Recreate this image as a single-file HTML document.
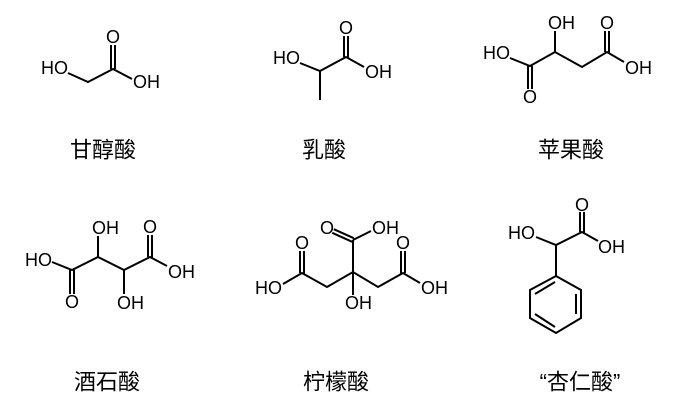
<!DOCTYPE html>
<html><head><meta charset="utf-8"><style>
html,body{margin:0;padding:0;background:#fff;}
svg{display:block;}
.a{font-family:"Liberation Sans",Arial,sans-serif;font-size:18px;fill:#000;}
.c{font-family:"Liberation Sans","Noto Sans CJK SC",sans-serif;font-size:22px;fill:#000;}
line,polyline{stroke:#000;stroke-width:2;fill:none;stroke-linecap:butt;}
</style></head><body>
<svg width="688" height="417" viewBox="0 0 688 417" xmlns="http://www.w3.org/2000/svg">
<g class="a" dominant-baseline="central">
<text x="68" y="68" text-anchor="end">HO</text>
<text x="113" y="37" text-anchor="middle">O</text>
<text x="133" y="82">OH</text>
<text x="300" y="58" text-anchor="end">HO</text>
<text x="346" y="28" text-anchor="middle">O</text>
<text x="365" y="72">OH</text>
<text x="510" y="53" text-anchor="end">HO</text>
<text x="530" y="97" text-anchor="middle">O</text>
<text x="548" y="23">OH</text>
<text x="607" y="23" text-anchor="middle">O</text>
<text x="625" y="68">OH</text>
<text x="52" y="260" text-anchor="end">HO</text>
<text x="72" y="302" text-anchor="middle">O</text>
<text x="92" y="228">OH</text>
<text x="117" y="303">OH</text>
<text x="150" y="227" text-anchor="middle">O</text>
<text x="168" y="272">OH</text>
<text x="327" y="228" text-anchor="middle">O</text>
<text x="372" y="228">OH</text>
<text x="345" y="303">OH</text>
<text x="302" y="243" text-anchor="middle">O</text>
<text x="282" y="288" text-anchor="end">HO</text>
<text x="403" y="243" text-anchor="middle">O</text>
<text x="421" y="288">OH</text>
<text x="535" y="233" text-anchor="end">HO</text>
<text x="582" y="205" text-anchor="middle">O</text>
<text x="598" y="247">OH</text>
</g>
<g>
<polyline points="68,73 88,82 113,69 132,79"/>
<line x1="111" y1="69" x2="111" y2="45"/><line x1="115" y1="69" x2="115" y2="45"/>
<polyline points="300,63 320,71 346,57 364,67"/>
<line x1="320" y1="71" x2="320" y2="100"/>
<line x1="344" y1="57" x2="344" y2="36"/><line x1="348" y1="58" x2="348" y2="36"/>
<polyline points="510,58 530,66 555,52 582,67 607,52 624,62"/>
<line x1="555" y1="52" x2="555" y2="31"/>
<line x1="528" y1="66" x2="528" y2="89"/><line x1="532" y1="66" x2="532" y2="89"/>
<line x1="605" y1="52" x2="605" y2="31"/><line x1="609" y1="53" x2="609" y2="31"/>
<polyline points="52,262 72,270 98,257 124,270 150,257 167,266"/>
<line x1="98" y1="257" x2="98" y2="236"/>
<line x1="124" y1="270" x2="124" y2="294"/>
<line x1="70" y1="270" x2="70" y2="294"/><line x1="74" y1="270" x2="74" y2="294"/>
<line x1="148" y1="257" x2="148" y2="235"/><line x1="152" y1="258" x2="152" y2="235"/>
<line x1="353" y1="272" x2="353" y2="240"/>
<line x1="353" y1="272" x2="353" y2="295"/>
<line x1="353.8" y1="238.2" x2="333.8" y2="229.2"/><line x1="352.2" y1="241.8" x2="332.2" y2="232.8"/>
<line x1="353" y1="240" x2="371" y2="231"/>
<polyline points="283,284 302,273 327,287 353,272 378,287 403,273 420,283"/>
<line x1="300" y1="273" x2="300" y2="251"/><line x1="304" y1="274" x2="304" y2="251"/>
<line x1="401" y1="274" x2="401" y2="251"/><line x1="405" y1="273" x2="405" y2="251"/>
<polyline points="536,237 556,245 582,232 598,241"/>
<line x1="556" y1="245" x2="556" y2="276"/>
<line x1="580" y1="232" x2="580" y2="212"/><line x1="584" y1="233" x2="584" y2="212"/>
<polygon points="556,276 581,290 581,318 556,333 530,318 530,290" fill="none" stroke="#000" stroke-width="2"/>
<line x1="535" y1="294" x2="555" y2="282"/>
<line x1="576" y1="294" x2="576" y2="314"/>
<line x1="535" y1="314" x2="555" y2="327"/>
</g>
<g class="c" text-anchor="middle" dominant-baseline="central">
<text x="103" y="150">甘醇酸</text>
<text x="324" y="150">乳酸</text>
<text x="571" y="150">苹果酸</text>
<text x="107" y="382">酒石酸</text>
<text x="336" y="382">柠檬酸</text>
<text x="580" y="382">“杏仁酸”</text>
</g>
</svg>
</body></html>
